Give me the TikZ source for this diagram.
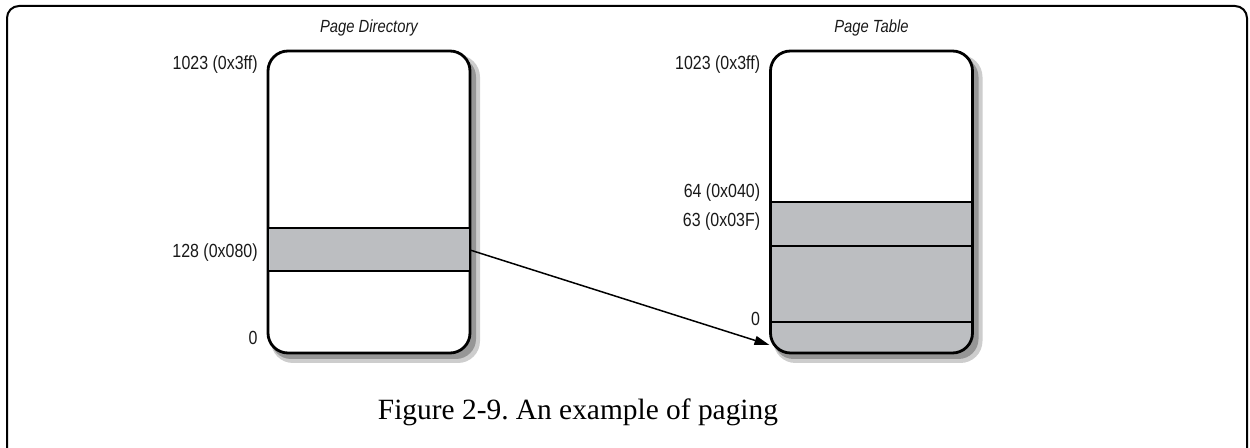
\documentclass[tikz,border=0pt]{standalone}
\usepackage{fontspec}
\setmainfont{Liberation Serif}
\setsansfont{Liberation Sans}[FakeStretch=0.84]
\usepackage{xcolor}
\usepackage{tikz}
\usetikzlibrary{positioning, calc, arrows.meta}
\definecolor{bandgray}{RGB}{188,190,193}
\definecolor{shadowgray}{RGB}{150,150,150}
\definecolor{shadowlight}{RGB}{205,205,205}
\tikzstyle{pagebox} = [rectangle, rounded corners=10pt, minimum width=101pt, minimum height=151pt, outer sep=0pt, inner sep=0pt, draw=black, line width=1.4pt, fill=white]
\tikzstyle{shade1} = [fill=shadowlight, rounded corners=11pt]
\tikzstyle{shade2} = [fill=shadowgray, rounded corners=10pt]
\tikzstyle{band} = [draw=black, line width=1.4pt, fill=bandgray]
\tikzstyle{divider} = [draw=black, line width=1.4pt]
\tikzstyle{entry} = [font=\sffamily\fontsize{9.5}{11}\selectfont, anchor=east, inner sep=0pt, text=black!90]
\tikzstyle{title} = [font=\sffamily\itshape\fontsize{8.8}{10}\selectfont, inner sep=0pt, text=black!90]
\tikzstyle{caption} = [font=\frenchspacing\fontsize{14.7}{18}\selectfont, anchor=base, inner sep=0pt]
\tikzstyle{arrow} = [line width=0.75pt, -{Triangle[length=7.5pt,width=4.5pt]}]

\begin{document}
\begin{tikzpicture}[x=0.5pt, y=-0.5pt]
\useasboundingbox (0,0) rectangle (1250,448);
\draw[line width=1pt, rounded corners=6pt] (7,6) rectangle (1247,480);

\foreach \cx in {369, 871.5} {
  \fill [shade1] (\cx-98,51+4) rectangle (\cx+101+10,353+10);
  \fill [shade2] (\cx-98,51+6) rectangle (\cx+101+6,353+6);
}

\node [pagebox] (pd) at (369,202) {};
\node [pagebox, path picture={\fill[bandgray, sharp corners] (path picture bounding box.west) rectangle (path picture bounding box.south east);}] (pt) at (871.5,202) {};

\draw [band] ([yshift=-13pt]pd.west) rectangle ([yshift=-34.5pt]pd.east);
\draw [divider] (pt.west) -- (pt.east);
\draw [divider] ([yshift=-22pt]pt.west) -- ([yshift=-22pt]pt.east);
\draw [divider] ([yshift=-60pt]pt.west) -- ([yshift=-60pt]pt.east);

\node [title] (pdname) at ([yshift=11.5pt]pd.north) {Page Directory};
\node [title] (ptname) at ([yshift=11.5pt]pt.north) {Page Table};

\node [entry] (pdtop) at ([xshift=-5pt, yshift=68.5pt]pd.west) {1023 (0x3ff)};
\node [entry] (pdmid) at ([xshift=-5pt, yshift=-25.5pt]pd.west) {128 (0x080)};
\node [entry] (pdlow) at ([xshift=-5pt, yshift=-68pt]pd.west) {0};

\node [entry] (pttop) at ([xshift=-5pt, yshift=68.5pt]pt.west) {1023 (0x3ff)};
\node [entry] (pthi) at ([xshift=-5pt, yshift=4.5pt]pt.west) {64 (0x040)};
\node [entry] (ptmid) at ([xshift=-5pt, yshift=-10pt]pt.west) {63 (0x03F)};
\node [entry] (ptlow) at ([xshift=-5pt, yshift=-58.5pt]pt.west) {0};

\coordinate (src) at ([yshift=-24pt]pd.east);
\coordinate (dst) at ([xshift=-0.5pt, yshift=-71.5pt]pt.west);
\draw [arrow] (src) -- (dst);

\node [caption] (cap) at (578,420) {Figure 2-9. An example of paging};
\end{tikzpicture}
\end{document}
